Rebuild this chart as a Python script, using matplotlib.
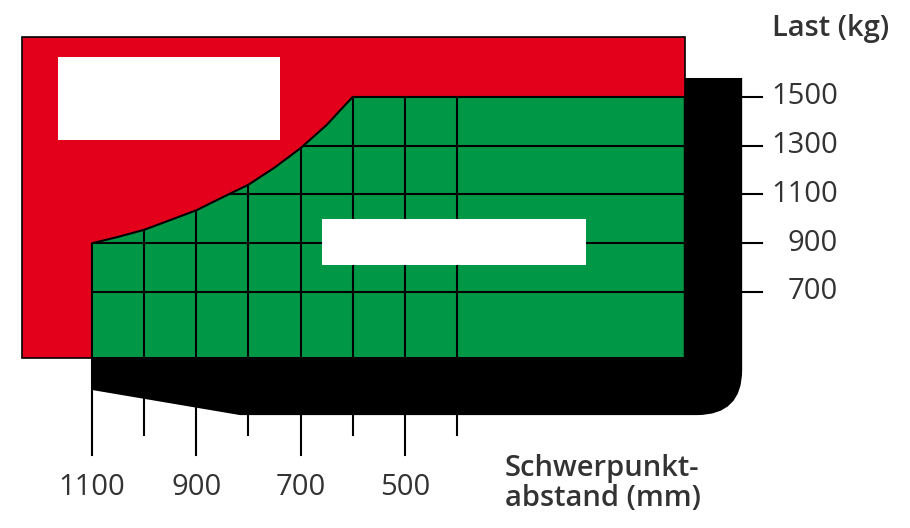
import numpy as np
import matplotlib.pyplot as plt
from matplotlib.patches import Polygon, Rectangle, PathPatch
from matplotlib.path import Path

plt.rcParams['font.family'] = ['Open Sans', 'DejaVu Sans']

## load curve: centre of gravity distance (mm) -> load (kg)
curve_mm = [1100, 1050, 1000, 950, 900, 850, 800, 750, 700, 650, 625, 600]
curve_kg = [900, 926, 955, 995, 1035, 1088, 1140, 1210, 1290, 1385, 1443, 1500]

load_ticks = [1500, 1300, 1100, 900, 700]
dist_major = [1100, 900, 700, 500]
dist_minor = [1000, 800, 600, 400]

RED = '#e2001a'
GREEN = '#009846'
TEXT = '#333333'

def main():
    fig = plt.figure(figsize=(9.1, 5.28), dpi=100)
    ax = fig.add_axes([0, 0, 1, 1])
    ax.set_xlim(1276.4, -468.9)
    ax.set_ylim(-268.2, 1897.9)
    ax.axis('off')

    x_right = -37      # right edge of red/green field
    y_base = 429       # bottom of the field

    ## red background field
    ax.add_patch(Rectangle((x_right, y_base), 1235 - x_right, 1746 - y_base,
                           facecolor=RED, edgecolor='black', lw=1.2, zorder=1))

    ## black base / mast shape
    verts = [(1100, y_base), (1100, 298), (816, 195), (-60, 195),
             (-147, 195), (-147, 380), (-147, 1578), (x_right, 1578),
             (x_right, y_base), (1100, y_base)]
    codes = [Path.MOVETO, Path.LINETO, Path.LINETO, Path.LINETO,
             Path.CURVE3, Path.CURVE3, Path.LINETO, Path.LINETO,
             Path.LINETO, Path.CLOSEPOLY]
    ax.add_patch(PathPatch(Path(verts, codes), facecolor='black', edgecolor='none', zorder=2))

    ## bottom ticks
    for d in dist_major:
        ax.plot([d, d], [y_base, 31], color='black', lw=1.5, zorder=1.5)
    for d in dist_minor:
        ax.plot([d, d], [y_base, 113], color='black', lw=1.5, zorder=1.5)

    ## green permitted area
    pts = [(1100, y_base)] + list(zip(curve_mm, curve_kg)) + [(x_right, 1500), (x_right, y_base)]
    green = Polygon(pts, closed=True, facecolor=GREEN, edgecolor='none', zorder=3)
    ax.add_patch(green)

    ## grid inside the green area
    for d in dist_minor + dist_major[1:]:
        ln, = ax.plot([d, d], [y_base, 1600], color='black', lw=1.5, zorder=4)
        ln.set_clip_path(green)
    for k in load_ticks[1:]:
        ln, = ax.plot([1200, x_right], [k, k], color='black', lw=1.5, zorder=4)
        ln.set_clip_path(green)
    ax.add_patch(Polygon(pts, closed=True, facecolor='none', edgecolor='black',
                         lw=1.5, joinstyle='round', zorder=5))

    ## white label boxes
    ax.add_patch(Rectangle((739, 1324), 1165 - 739, 1664 - 1324,
                           facecolor='white', edgecolor='none', zorder=6))
    ax.add_patch(Rectangle((153, 811), 659 - 153, 999 - 811,
                           facecolor='white', edgecolor='none', zorder=6))

    ## right load axis
    for k in load_ticks:
        ax.plot([-147, -186], [k, k], color='black', lw=1.5, zorder=2)
        ax.text(-331, k, str(k), ha='right', va='center', fontsize=21, color=TEXT)
    ax.text(-204, 1783, 'Last (kg)', ha='left', va='center', fontsize=21,
            fontweight='semibold', color=TEXT)

    ## bottom distance axis
    for d in dist_major:
        ax.text(d, -100, str(d), ha='center', va='center', fontsize=21, color=TEXT)
    ax.text(308, -26, 'Schwerpunkt-', ha='left', va='center', fontsize=21,
            fontweight='semibold', color=TEXT)
    ax.text(308, -149, 'abstand (mm)', ha='left', va='center', fontsize=21,
            fontweight='semibold', color=TEXT)

    fig.savefig('out.png', dpi=100, facecolor='white')

if __name__ == "__main__":
    main()
